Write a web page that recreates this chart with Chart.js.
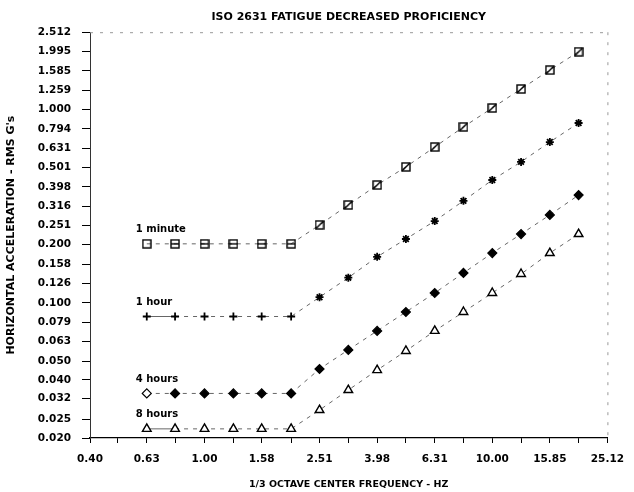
<!DOCTYPE html>
<html>
<head>
<meta charset="utf-8">
<script src="https://cdn.jsdelivr.net/npm/chart.js@4.4.0/dist/chart.umd.min.js"></script>
<style>
  html, body { margin: 0; padding: 0; background: #fff; }
  #wrap { width: 634px; height: 492px; position: relative; }
</style>
</head>
<body>
<div id="wrap"><canvas id="c"></canvas></div>
<script>
// 1/3 octave centre frequencies (Hz)
const frequencies = [0.63, 0.79, 1.00, 1.26, 1.58, 2.00, 2.51, 3.16, 3.98, 5.01, 6.31, 7.94, 10.00, 12.59, 15.85, 19.95];

// Horizontal acceleration limits, RMS g, per exposure time
const oneMinute  = [0.202, 0.202, 0.202, 0.202, 0.202, 0.202, 0.253, 0.321, 0.407, 0.505, 0.640, 0.813, 1.019, 1.278, 1.600, 1.990];
const oneHour    = [0.085, 0.085, 0.085, 0.085, 0.085, 0.085, 0.107, 0.135, 0.173, 0.214, 0.265, 0.337, 0.432, 0.536, 0.679, 0.852];
const fourHours  = [0.034, 0.034, 0.034, 0.034, 0.034, 0.034, 0.0455, 0.0571, 0.0716, 0.0897, 0.1125, 0.1428, 0.181, 0.227, 0.285, 0.361];
const eightHours = [0.0223, 0.0223, 0.0223, 0.0223, 0.0223, 0.0223, 0.0279, 0.0354, 0.0449, 0.0564, 0.0716, 0.0897, 0.1125, 0.141, 0.181, 0.227];

const seriesNames = ['1 minute', '1 hour', '4 hours', '8 hours'];

// Axis ticks
const xTicks = [0.40, 0.50, 0.63, 0.79, 1.00, 1.26, 1.58, 2.00, 2.51, 3.16, 3.98, 5.01, 6.31, 7.94, 10.00, 12.59, 15.85, 19.95, 25.12];
const xTickLabels = ['0.40', '', '0.63', '', '1.00', '', '1.58', '', '2.51', '', '3.98', '', '6.31', '', '10.00', '', '15.85', '', '25.12'];
const yTicks = [0.020, 0.025, 0.032, 0.040, 0.050, 0.063, 0.079, 0.100, 0.126, 0.158, 0.200, 0.251, 0.316, 0.398, 0.501, 0.631, 0.794, 1.000, 1.259, 1.585, 1.995, 2.512];
const yTickLabels = ['0.020', '0.025', '0.032', '0.040', '0.050', '0.063', '0.079', '0.100', '0.126', '0.158', '0.200', '0.251', '0.316', '0.398', '0.501', '0.631', '0.794', '1.000', '1.259', '1.585', '1.995', '2.512'];

const FONT = 'DejaVu Sans';

// Marker glyphs for the one-minute curve
function squareMarker(kind) {
  const s = 10;
  const c = document.createElement('canvas');
  c.width = s; c.height = s;
  const g = c.getContext('2d');
  g.strokeStyle = '#000';
  g.lineWidth = 1.4;
  g.strokeRect(1, 1, s - 2, s - 2);
  g.beginPath();
  if (kind === 'bar') { g.moveTo(1, s / 2); g.lineTo(s - 1, s / 2); }
  if (kind === 'slash') { g.moveTo(1, s - 1); g.lineTo(s - 1, 1); }
  g.stroke();
  return c;
}
const sqPlain = squareMarker('none');
const sqBar = squareMarker('bar');
const sqSlash = squareMarker('slash');

function pts(values) {
  return frequencies.map((f, i) => ({ x: f, y: values[i] }));
}

const lineBase = {
  borderColor: '#666',
  borderWidth: 1,
  borderDash: [4, 5],
  tension: 0,
  fill: false,
  pointBorderColor: '#000',
};

const datasets = [
  Object.assign({}, lineBase, {
    label: seriesNames[0],
    data: pts(oneMinute),
    pointStyle: ctx => ctx.dataIndex === 0 ? sqPlain : (ctx.dataIndex < 6 ? sqBar : sqSlash),
    pointRadius: 5,
  }),
  Object.assign({}, lineBase, {
    label: seriesNames[1],
    data: pts(oneHour),
    pointStyle: ctx => ctx.dataIndex < 6 ? 'cross' : 'star',
    pointRadius: 4,
    pointBorderWidth: 1.8,
    segment: { borderDash: s => s.p0DataIndex === 0 ? [] : [4, 5] },
  }),
  Object.assign({}, lineBase, {
    label: seriesNames[2],
    data: pts(fourHours),
    pointStyle: 'rectRot',
    pointRadius: 4.5,
    pointBorderWidth: 1.2,
    pointBackgroundColor: ctx => ctx.dataIndex === 0 ? '#fff' : '#000',
  }),
  Object.assign({}, lineBase, {
    label: seriesNames[3],
    data: pts(eightHours),
    pointStyle: 'triangle',
    pointRadius: 5,
    pointBorderWidth: 1.4,
    pointBackgroundColor: '#fff',
    segment: { borderDash: s => s.p0DataIndex === 0 ? [] : [4, 5] },
  }),
];

// Curve names written just above the first point of each curve
const seriesLabels = {
  id: 'seriesLabels',
  afterDatasetsDraw(chart) {
    const { ctx, scales: { x, y } } = chart;
    ctx.save();
    ctx.font = 'bold 10px "' + FONT + '"';
    ctx.fillStyle = '#000';
    ctx.textBaseline = 'middle';
    ctx.textAlign = 'left';
    chart.data.datasets.forEach(ds => {
      const px = x.getPixelForValue(ds.data[0].x) - 11;
      const py = y.getPixelForValue(ds.data[0].y) - 14;
      ctx.fillText(ds.label, px, py);
    });
    ctx.restore();
  }
};

// Faint dotted frame on the top and right of the plot
const frame = {
  id: 'frame',
  beforeDatasetsDraw(chart) {
    const { ctx, chartArea: a } = chart;
    ctx.save();
    ctx.strokeStyle = '#999';
    ctx.lineWidth = 1;
    ctx.setLineDash([3, 7]);
    ctx.beginPath();
    ctx.moveTo(a.left, a.top + 0.5);
    ctx.lineTo(a.right, a.top + 0.5);
    ctx.moveTo(a.right + 0.5, a.top);
    ctx.lineTo(a.right + 0.5, a.bottom);
    ctx.stroke();
    ctx.restore();
  }
};

new Chart(document.getElementById('c'), {
  type: 'line',
  data: { datasets },
  options: {
    responsive: true,
    maintainAspectRatio: false,
    animation: false,
    layout: { padding: { left: 0, right: 24, top: 0, bottom: 0 } },
    plugins: {
      legend: { display: false },
      tooltip: { enabled: false },
      title: {
        display: true,
        text: 'ISO 2631 FATIGUE DECREASED PROFICIENCY',
        color: '#000',
        fullSize: false,
        font: { family: FONT, weight: 'bold', size: 11 },
        padding: { top: 11, bottom: 8 },
      },
    },
    scales: {
      x: {
        type: 'logarithmic',
        min: 0.40,
        max: 25.12,
        afterBuildTicks: s => { s.ticks = xTicks.map(v => ({ value: v })); },
        afterFit: s => { s.height = 54; },
        ticks: {
          autoSkip: false,
          maxRotation: 0,
          color: '#000',
          padding: 10,
          font: { family: FONT, weight: 'bold', size: 10.5 },
          callback: (v, i) => xTickLabels[i],
        },
        grid: { drawOnChartArea: false, drawTicks: true, tickLength: 5, tickColor: '#000' },
        border: { display: true, color: '#000', width: 1.2 },
        title: {
          display: true,
          text: '1/3 OCTAVE CENTER FREQUENCY - HZ',
          color: '#000',
          font: { family: FONT, weight: 'bold', size: 9.5 },
          padding: { top: 0, bottom: 2 },
        },
      },
      y: {
        type: 'logarithmic',
        min: 0.020,
        max: 2.512,
        afterBuildTicks: s => { s.ticks = yTicks.map(v => ({ value: v })); },
        afterFit: s => { s.width = 90; },
        ticks: {
          autoSkip: false,
          color: '#000',
          padding: 11,
          font: { family: FONT, weight: 'bold', size: 10.5 },
          callback: (v, i) => yTickLabels[i],
        },
        grid: { drawOnChartArea: false, drawTicks: true, tickLength: 8, tickColor: '#000' },
        border: { display: true, color: '#333', width: 1, dash: [6, 3] },
        title: {
          display: true,
          text: "HORIZONTAL ACCELERATION - RMS G's",
          color: '#000',
          font: { family: FONT, weight: 'bold', size: 11 },
          padding: { top: 5, bottom: 0 },
        },
      },
    },
  },
  plugins: [seriesLabels, frame],
});
</script>
</body>
</html>
